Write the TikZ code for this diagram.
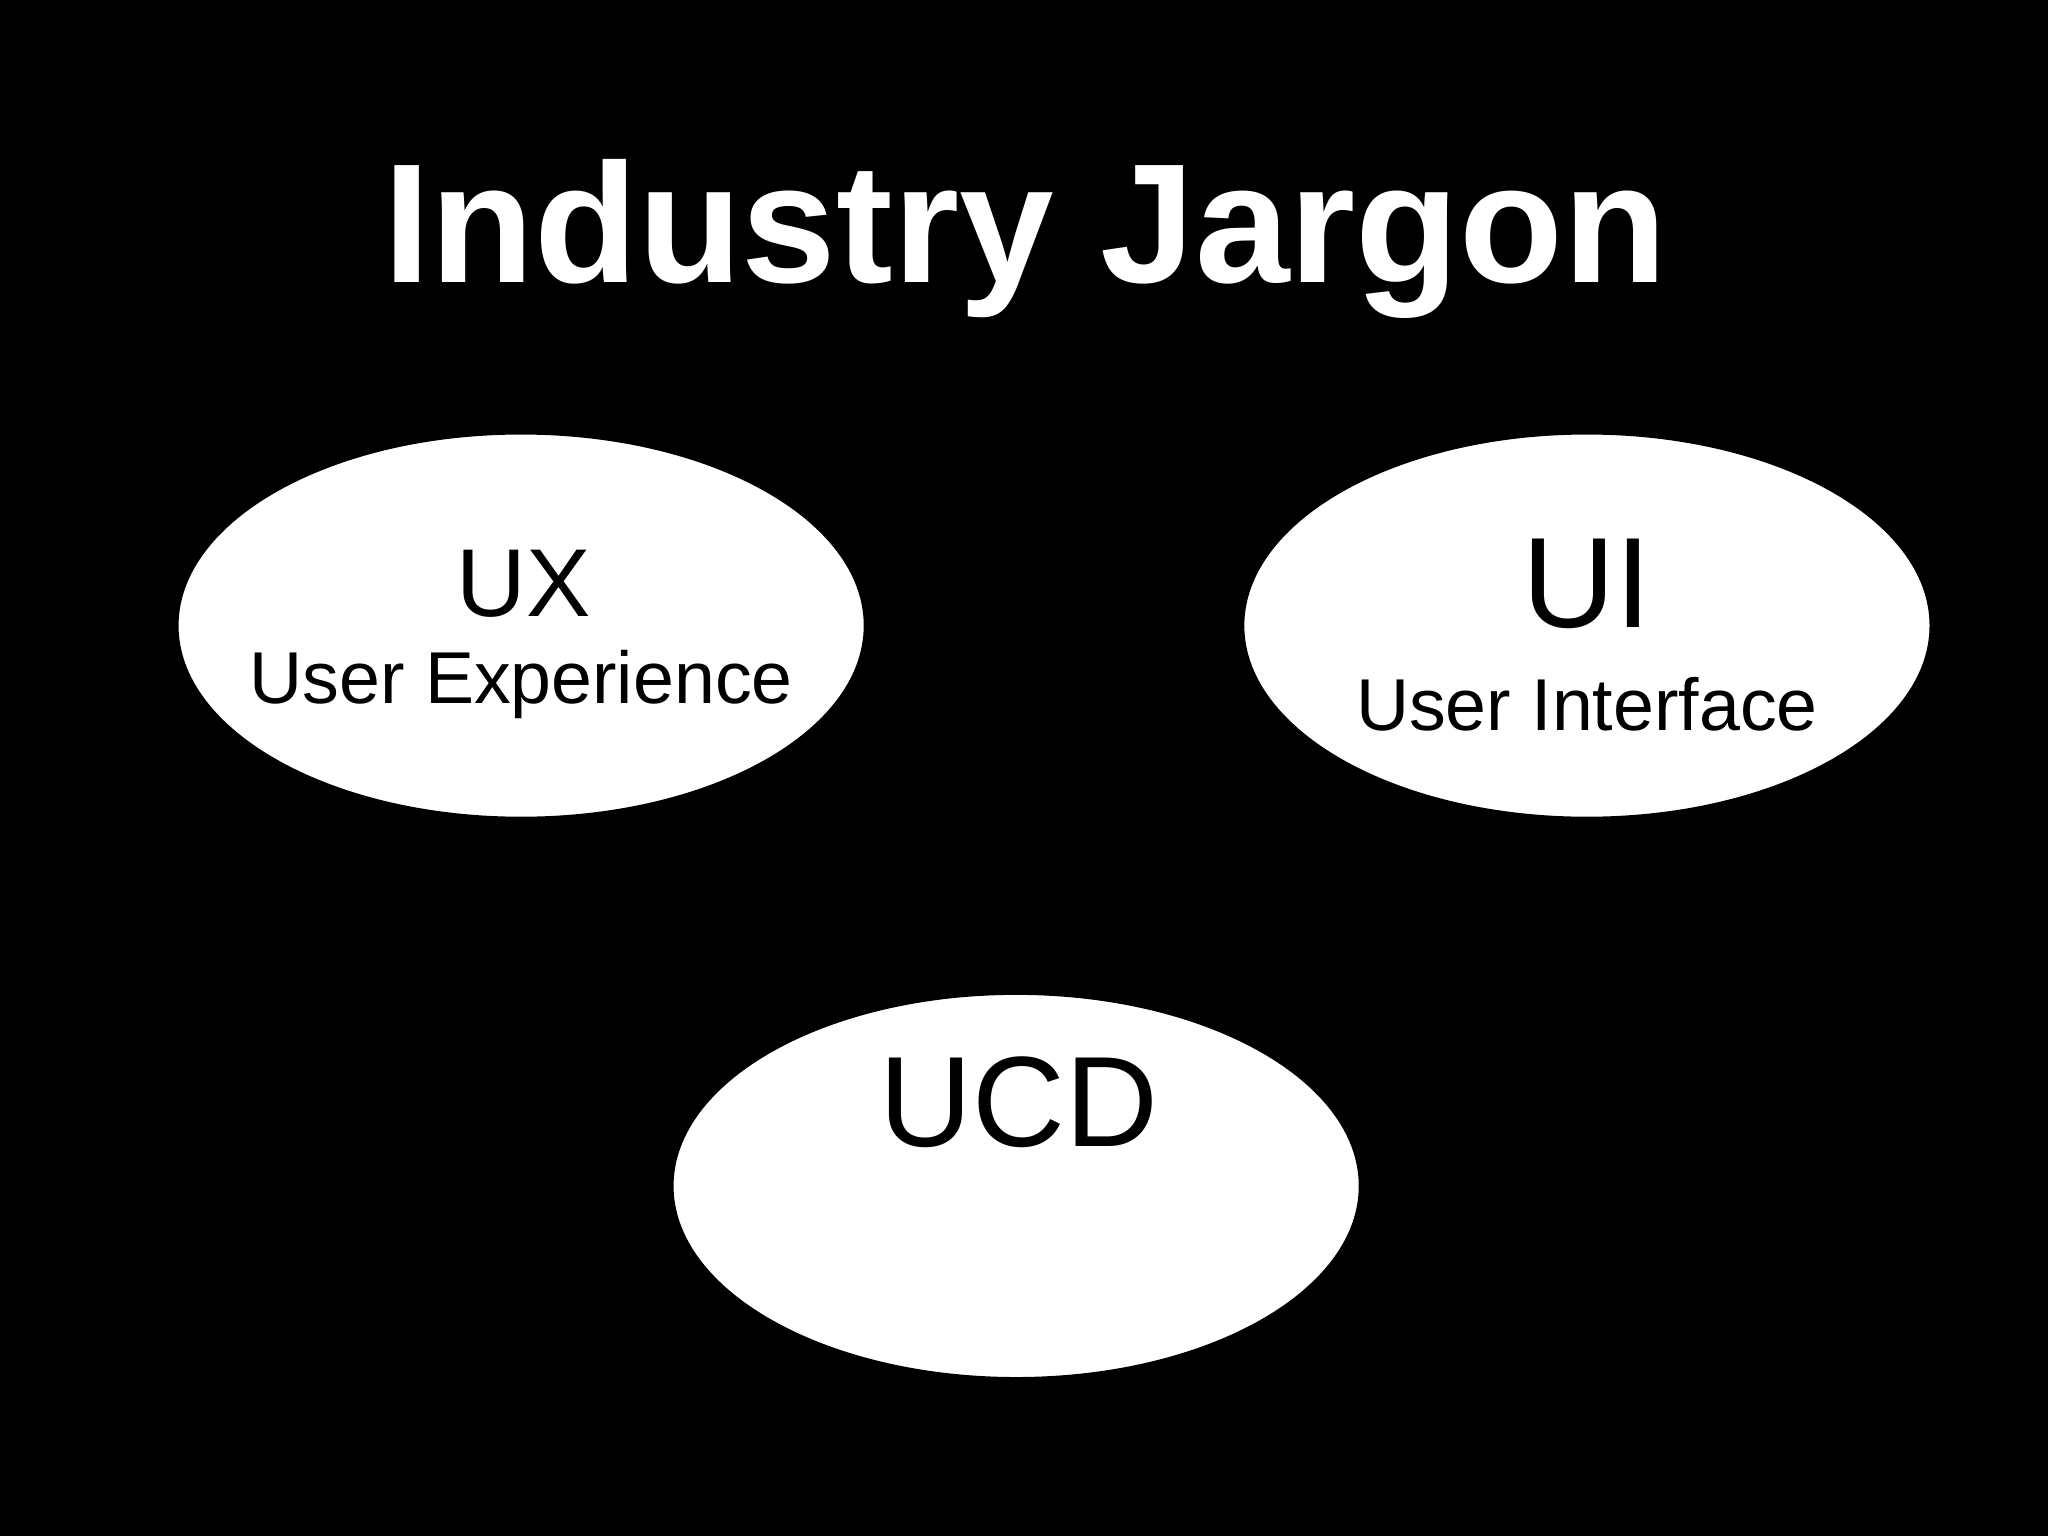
\documentclass[tikz,border=0pt]{standalone}
\usepackage{fontspec}
\setmainfont{Liberation Sans}
\begin{document}
\begin{tikzpicture}[x=0.01cm,y=-0.01cm,
  blob/.style={fill=white,draw=black},
  lbl/.style={text=black,inner sep=0pt,anchor=center}]
\fill[black] (0,0) rectangle (1568,1176);
\useasboundingbox (0,0) rectangle (1568,1176);
\node[text=white,inner sep=0pt] (title) at (785,183) {\fontsize{37}{40}\selectfont\bfseries Industry Jargon};
\path[blob] (399,479) ellipse [x radius=263, y radius=147];
\path[blob] (1215,479) ellipse [x radius=263, y radius=147];
\path[blob] (778,908) ellipse [x radius=263, y radius=147];
\node[lbl] (ux) at (401,447) {\fontsize{21}{24}\selectfont UX};
\node[lbl] (uxs) at (399,524) {\fontsize{16}{19}\selectfont User Experience};
\node[lbl] (ui) at (1215,447) {\fontsize{28}{32}\selectfont UI};
\node[lbl] (uis) at (1215,539) {\fontsize{16}{19}\selectfont User Interface};
\node[lbl] (ucd) at (780,844) {\fontsize{28}{32}\selectfont UCD};
\end{tikzpicture}
\end{document}
